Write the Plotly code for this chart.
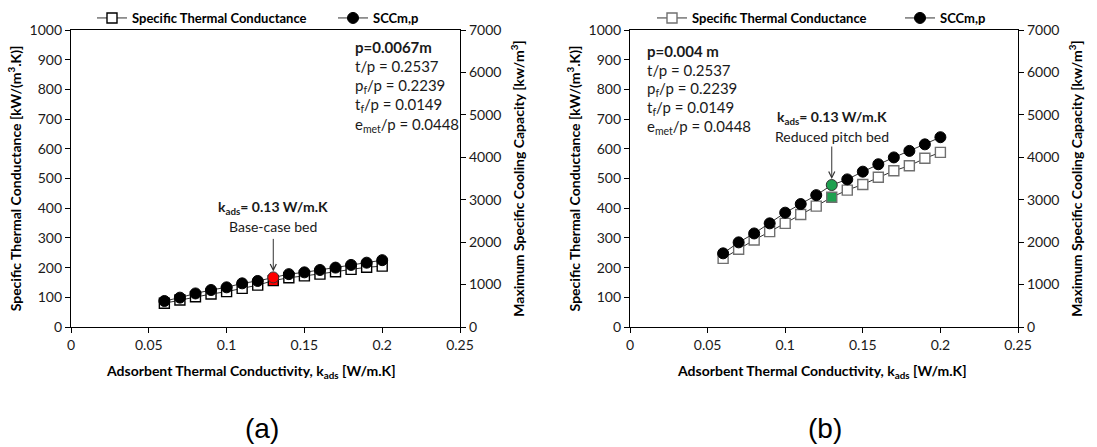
import plotly.graph_objects as go

# Adsorbent thermal conductivity, k_ads [W/m.K]
k_ads = [0.06, 0.07, 0.08, 0.09, 0.10, 0.11, 0.12, 0.13, 0.14, 0.15, 0.16, 0.17, 0.18, 0.19, 0.20]

# (a) base-case bed, p = 0.0067 m
stc_a = [80, 91, 102, 111, 119, 130, 141, 156, 166, 172, 178, 186, 194, 201, 205]          # kW/(m3.K)
scc_a = [613, 692, 791, 872, 935, 1029, 1085, 1169, 1246, 1288, 1344, 1400, 1463, 1516, 1575]  # kW/m3

# (b) reduced pitch bed, p = 0.004 m
stc_b = [231, 262, 293, 321, 349, 379, 407, 437, 461, 480, 504, 526, 543, 568, 588]
scc_b = [1736, 1995, 2205, 2443, 2695, 2898, 3108, 3346, 3479, 3661, 3836, 3997, 4151, 4305, 4473]

k_highlight = 0.13
params_a = ["<b>p=0.0067m</b>", "t/p = 0.2537", "p<sub>f</sub>/p = 0.2239",
            "t<sub>f</sub>/p = 0.0149", "e<sub>met</sub>/p = 0.0448"]
params_b = ["<b>p=0.004 m</b>", "t/p = 0.2537", "p<sub>f</sub>/p = 0.2239",
            "t<sub>f</sub>/p = 0.0149", "e<sub>met</sub>/p = 0.0448"]

FONT = "Lato"
TXT = "#1a1a1a"
W, H = 1097, 447


def px_x(v):
    return v / W


def px_y(v):
    return 1 - v / H


hi = k_ads.index(k_highlight)

fig = go.Figure()


def add_panel(stc, scc, hi_color, sq_edge, xa, ya, ya2, leg_sq, leg_ci):
    sq_fill = ["white"] * len(k_ads)
    sq_fill[hi] = hi_color
    ci_fill = ["black"] * len(k_ads)
    ci_fill[hi] = hi_color
    ci_line = ["black"] * len(k_ads)
    ci_line[hi] = "#333"
    fig.add_trace(go.Scatter(
        x=k_ads, y=stc, mode="lines+markers", name="<b>Specific Thermal Conductance</b>",
        xaxis=xa, yaxis=ya, legend=leg_sq,
        line=dict(color="#333", width=1),
        marker=dict(symbol="square", size=10, color=sq_fill,
                    line=dict(color=sq_edge, width=1.4)),
    ))
    fig.add_trace(go.Scatter(
        x=k_ads, y=scc, mode="lines+markers", name="<b>SCCm,p</b>",
        xaxis=xa, yaxis=ya2, legend=leg_ci,
        line=dict(color="#333", width=1),
        marker=dict(symbol="circle", size=11, color=ci_fill,
                    line=dict(color=ci_line, width=1)),
    ))


add_panel(stc_a, scc_a, "#ff0000", "black", "x", "y", "y2", "legend", "legend2")
add_panel(stc_b, scc_b, "#1fa050", "#707070", "x2", "y3", "y4", "legend3", "legend4")

dom_a = [px_x(71), px_x(460)]
dom_b = [px_x(630), px_x(1018)]
dom_y = [px_y(327), px_y(30)]

tick_font = dict(family=FONT, size=14, color=TXT)
title_font = dict(family=FONT, size=14, color="black")

xcommon = dict(range=[0, 0.25], dtick=0.05, tick0=0, showgrid=False, zeroline=False,
               showline=True, linecolor="black", linewidth=1.3, mirror=True,
               ticks="outside", ticklen=5, tickcolor="black", tickfont=tick_font,
               automargin=False)
ycommon = dict(range=[0, 1000], dtick=100, showgrid=False, zeroline=False,
               showline=True, linecolor="black", linewidth=1.3,
               ticks="outside", ticklen=5, tickcolor="black", tickfont=tick_font,
               automargin=False,
               title=dict(text="<b>Specific Thermal Conductance [kW/(m<sup>3</sup>.K)]</b>",
                          font=title_font, standoff=4))
y2common = dict(range=[0, 7000], dtick=1000, showgrid=False, zeroline=False,
                showline=True, linecolor="black", linewidth=1.3, side="right",
                ticks="outside", ticklen=5, tickcolor="black", tickfont=tick_font,
                automargin=False,
                title=dict(text="<b>Maximum Specific Cooling Capacity [kw/m<sup>3</sup>]</b>",
                           font=title_font, standoff=13))

legend_common = dict(orientation="h", xanchor="left", yanchor="top", y=px_y(3),
                     font=dict(family=FONT, size=13, color="black"),
                     bgcolor="rgba(0,0,0,0)", itemwidth=30)

fig.update_layout(
    width=W, height=H, margin=dict(l=0, r=0, t=0, b=0),
    paper_bgcolor="white", plot_bgcolor="white",
    font=dict(family=FONT, color=TXT),
    xaxis=dict(domain=dom_a, anchor="y", **xcommon),
    yaxis=dict(domain=dom_y, anchor="x", **ycommon),
    yaxis2=dict(overlaying="y", anchor="x", **y2common),
    xaxis2=dict(domain=dom_b, anchor="y3", **xcommon),
    yaxis3=dict(domain=dom_y, anchor="x2", **ycommon),
    yaxis4=dict(overlaying="y3", anchor="x2", **y2common),
    legend=dict(x=px_x(92), **legend_common),
    legend2=dict(x=px_x(333), **legend_common),
    legend3=dict(x=px_x(652), **legend_common),
    legend4=dict(x=px_x(900), **legend_common),
    showlegend=True,
)

ann = []


def block(lines, xref, yref, x0, y_top, step):
    for i, t in enumerate(lines):
        ann.append(dict(text=t, xref=xref, yref=yref, x=x0, y=y_top - i * step,
                        xanchor="left", yanchor="middle", showarrow=False,
                        font=dict(family=FONT, size=15, color=TXT)))


block(params_a, "x", "y", 0.181, 943, 65.5)
block(params_b, "x2", "y3", 0.0097, 930, 64)

# Highlighted bed labels and arrows
for xr, yr, yr2, scc, y_lab, lab in [("x", "y", "y2", scc_a, 404, "Base-case bed"),
                                     ("x2", "y3", "y4", scc_b, 704, "Reduced pitch bed")]:
    ann.append(dict(text="<b>k<sub>ads</sub>= 0.13 W/m.K</b>", xref=xr, yref=yr,
                    x=k_highlight, y=y_lab, showarrow=False,
                    font=dict(family=FONT, size=14, color=TXT)))
    ann.append(dict(text=lab, xref=xr, yref=yr, x=k_highlight, y=y_lab - 64,
                    showarrow=False, font=dict(family=FONT, size=14, color=TXT)))
    ann.append(dict(text="", xref=xr, yref=yr2, x=k_highlight, y=scc[hi],
                    showarrow=True, ax=0, ay=-40, arrowhead=5, arrowsize=1.2,
                    arrowwidth=1, arrowcolor="#333", standoff=6))

# X-axis titles
for cx in (251, 822):
    ann.append(dict(text="<b>Adsorbent Thermal Conductivity, k<sub>ads</sub> [W/m.K]</b>",
                    xref="paper", yref="paper", x=px_x(cx), y=px_y(371),
                    xanchor="center", yanchor="middle", showarrow=False, font=title_font))

# Panel captions
for cx, cap in [(262, "(a)"), (825, "(b)")]:
    ann.append(dict(text=cap, xref="paper", yref="paper", x=px_x(cx), y=px_y(428),
                    xanchor="center", yanchor="middle", showarrow=False,
                    font=dict(family="Liberation Sans", size=28, color="black")))

fig.update_layout(annotations=ann)
fig.write_html("out.html")
